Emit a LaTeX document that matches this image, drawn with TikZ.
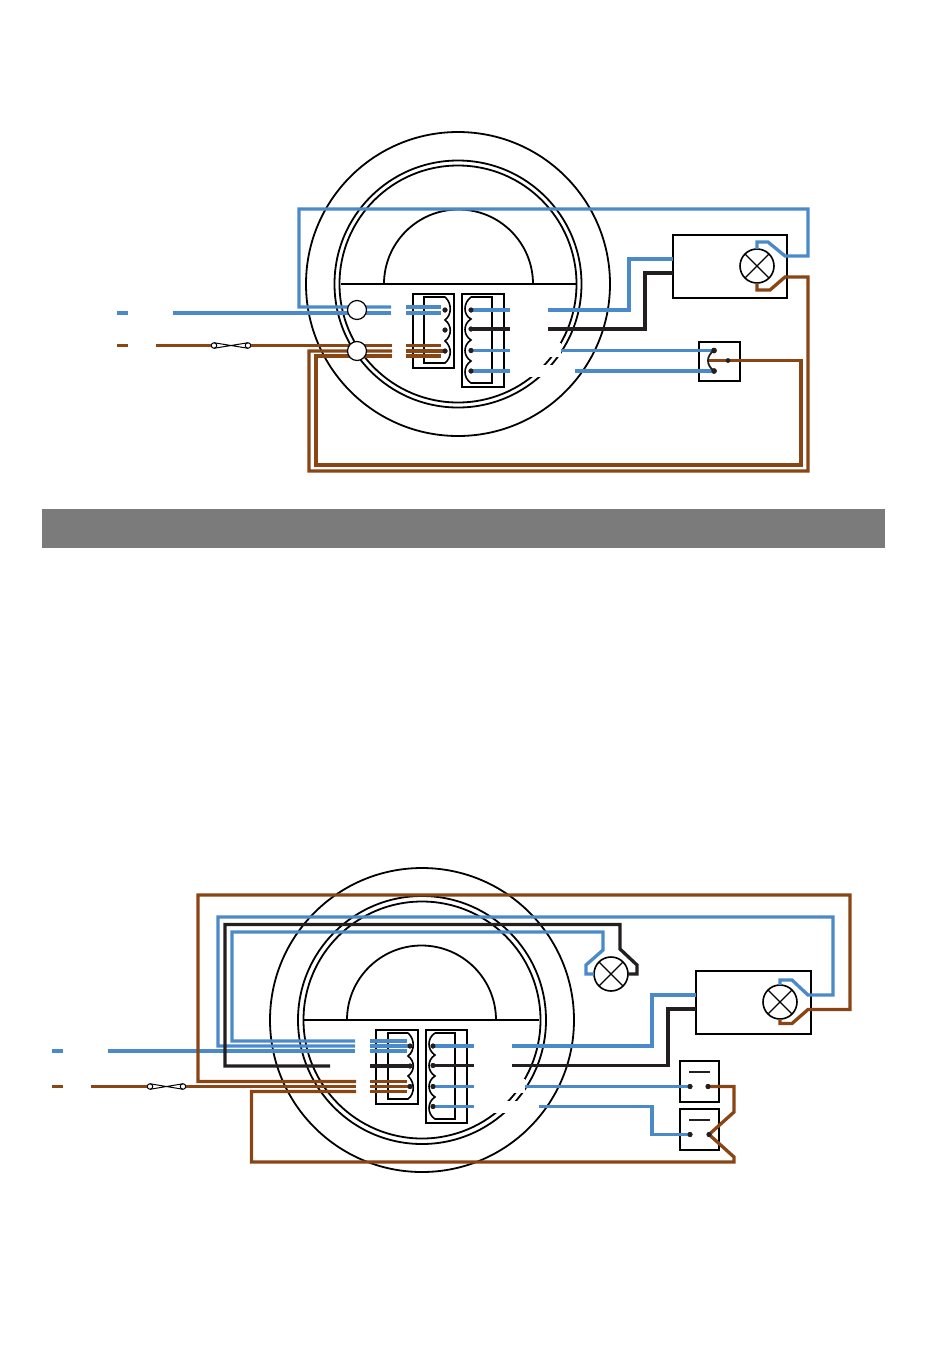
\documentclass[tikz,border=0pt]{standalone}
\definecolor{wblue}{HTML}{4A8ACB}
\definecolor{wbrown}{HTML}{8A4515}
\definecolor{wblack}{HTML}{231F20}
\definecolor{band}{HTML}{7C7B7C}
\tikzset{
  wb/.style={draw=wblue,line width=3.3pt},
  wn/.style={draw=wbrown,line width=3.3pt},
  wk/.style={draw=wblack,line width=3.3pt},
  ring/.style={draw=black,line width=1.8pt},
  blockbox/.style={draw=black,line width=2.3pt},
  thinbox/.style={draw=black,line width=1.6pt},
  dev/.style={draw=black,line width=2.3pt,fill=white},
  lamp/.style={circle,draw=black,line width=1.6pt,fill=white,minimum size=34pt,inner sep=0pt,outer sep=0pt},
  gland/.style={circle,draw=black,line width=1.2pt,fill=white,minimum size=19pt,inner sep=0pt,outer sep=0pt},
  term/.style={circle,fill=wblack,minimum size=5pt,inner sep=0pt,outer sep=0pt},
  fusecap/.style={circle,draw=black,line width=1pt,fill=white,minimum size=5.5pt,inner sep=0pt,outer sep=0pt},
  erase/.style={fill=white,draw=none},
}
\newcommand{\lampcross}[1]{\draw[black,line width=1.3pt] (#1.45)--(#1.225) (#1.135)--(#1.315);}
\newcommand{\fuseline}[2]{\draw[black,line width=1pt] (#1.north)--(#2.south) (#1.south)--(#2.north);}
\begin{document}
\begin{tikzpicture}[x=1pt,y=-1pt,line join=miter]
\useasboundingbox (0,0) rectangle (950,1369);
\fill[white] (0,0) rectangle (950,1369);

% band
\fill[band] (42,509) rectangle (885,548);

%%%%%%%%%%%%%% TOP DIAGRAM %%%%%%%%%%%%%%
\draw[ring] (458,284) circle[radius=152];
\draw[ring] (458,284) circle[radius=123.5];
\draw[ring] (458,284) circle[radius=118.5];
\draw[ring] (341,284) -- (576,284);
\draw[ring] (384,284) arc[start angle=180,end angle=360,radius=74.5];
\fill[erase] (510,343) rectangle (561,357);
\fill[erase] (510,365) rectangle (575,377);

% devices
\draw[dev] (673,235) rectangle (787,298);
\draw[dev] (699,342) rectangle (740,381);

% terminal blocks
\draw[blockbox] (413,294) rectangle (454,368);
\draw[thinbox] (445,297) -- (424,297) -- (424,363) -- (445,363)
  .. controls (452,357) and (452,347) .. (445,341)
  .. controls (452,336) and (452,325) .. (445,320)
  .. controls (452,315) and (452,303) .. (445,297);
\draw[blockbox] (462,294) rectangle (504,387);
\draw[thinbox] (471,297) -- (492,297) -- (492,383) -- (471,383)
  .. controls (463,378) and (463,366) .. (471,361)
  .. controls (463,356) and (463,345) .. (471,340)
  .. controls (463,335) and (463,324) .. (471,319)
  .. controls (463,315) and (463,303) .. (471,297);

\node[term] (a1) at (445,310) {};
\node[term] (a2) at (445,330) {};
\node[term] (a3) at (445,351) {};
\node[term] (b1) at (471,310) {};
\node[term] (b2) at (471,329) {};
\node[term] (b3) at (471,350.5) {};
\node[term] (b4) at (471,371) {};

% lamp
\node[lamp] (lampA) at (757,266) {};
\lampcross{lampA}

% switch terminals
\node[term,minimum size=5.5pt] (s1) at (714,350.5) {};
\node[term,minimum size=5.5pt] (s2) at (714,371) {};
\node[term,minimum size=4.5pt] (s3) at (728,360.5) {};

% fuse
\node[fusecap] (f1) at (214,345.5) {};
\node[fusecap] (f2) at (248,345.5) {};
\fuseline{f1}{f2}

% blue wires
\draw[wb] (117,313) -- (128,313);
\draw[wb] (173,313) -- (391,313);
\draw[wb] (406,313) -- (441,313);
\draw[wb] (391,307) -- (299,307) -- (299,209) -- (808,209) -- (808,256) -- (785,256)
  -- (768,242) -- (757,242) -- (lampA.north);
\draw[wb] (406,307) -- (441,307);
\draw[wb] (b1.center) -- (510,310);
\draw[wb] (548,310) -- (629,310) -- (629,259) -- (673,259);
\draw[wb] (b3.center) -- (510,350.5);
\draw[wb] (561,350.5) -- (s1.center);
\draw[wb] (b4.center) -- (510,371);
\draw[wb] (575,371) -- (s2.center);

% black wires
\draw[wk] (b2.center) -- (510,329);
\draw[wk] (548,329) -- (645,329) -- (645,273) -- (673,273);

% brown wires
\draw[wn] (117,345.5) -- (128,345.5);
\draw[wn] (156,345.5) -- (f1.west);
\draw[wn] (f2.east) -- (392,345.5);
\draw[wn] (406,345.5) -- (441,345.5);
\draw[wn] (392,351) -- (309,351) -- (309,471) -- (808,471) -- (808,277) -- (785,277)
  -- (770,290) -- (757,290) -- (lampA.south);
\draw[wn] (406,351) -- (a3.center);
\draw[wn] (392,356) -- (316,356) -- (316,465) -- (801,465) -- (801,360.5) -- (708,360.5);
\draw[wn] (406,356) -- (441,356);

% switch lever
\draw[wblack,line width=1.8pt] (s1.center) .. controls (706,356) and (706,365) .. (s2.center);

% terminals above the wires
\foreach \n in {a1,a2,a3,b1,b2,b3,b4}{\node[term] at (\n) {};}
\foreach \n in {s1,s2}{\node[term,minimum size=5.5pt] at (\n) {};}
\node[term,minimum size=4.5pt] at (s3) {};

% glands
\node[gland] (g1) at (357,310) {};
\node[gland] (g2) at (357,351) {};

%%%%%%%%%%%%%% BOTTOM DIAGRAM %%%%%%%%%%%%%%
\draw[ring] (422,1020) circle[radius=152];
\draw[ring] (422,1020) circle[radius=124];
\draw[ring] (422,1020) circle[radius=118.5];
\draw[ring] (304,1020) -- (539,1020);
\draw[ring] (347,1020) arc[start angle=180,end angle=360,radius=74.5];
\fill[erase] (474,1079) rectangle (525,1093);
\fill[erase] (474,1101) rectangle (539,1113);

\draw[dev] (696,971) rectangle (811,1034);
\draw[dev] (680,1061) rectangle (719,1102);
\draw[dev] (680,1109) rectangle (719,1150);
\draw[wblack,line width=1.8pt] (689,1072) -- (710,1072);
\draw[wblack,line width=1.8pt] (689,1120) -- (710,1120);

\draw[blockbox] (376,1030) rectangle (418,1104);
\draw[thinbox] (408,1033) -- (388,1033) -- (388,1099) -- (408,1099)
  .. controls (415,1094) and (415,1082) .. (408,1076)
  .. controls (415,1071) and (415,1061) .. (408,1056)
  .. controls (415,1051) and (415,1039) .. (408,1033);
\draw[blockbox] (426,1030) rectangle (467,1123);
\draw[thinbox] (435,1033) -- (455,1033) -- (455,1119) -- (435,1119)
  .. controls (427,1114) and (427,1102) .. (435,1097)
  .. controls (427,1092) and (427,1081) .. (435,1076)
  .. controls (427,1071) and (427,1060) .. (435,1055)
  .. controls (427,1050) and (427,1038) .. (435,1033);

\node[term] (c1) at (410,1046) {};
\node[term] (c2) at (410,1066) {};
\node[term] (c3) at (410,1086.5) {};
\node[term] (d1) at (433,1046) {};
\node[term] (d2) at (433,1065.5) {};
\node[term] (d3) at (433,1086.5) {};
\node[term] (d4) at (433,1106.5) {};

\node[lamp] (lampB) at (780,1002) {};
\lampcross{lampB}
\node[lamp] (lampC) at (611,974) {};
\lampcross{lampC}

\node[term] (t1) at (690,1086.5) {};
\node[term] (t2) at (708,1086.5) {};
\node[term] (t3) at (690,1134.5) {};
\node[term] (t4) at (709,1134.5) {};

\node[fusecap] (f3) at (150,1086.5) {};
\node[fusecap] (f4) at (183,1086.5) {};
\fuseline{f3}{f4}

% blue
\draw[wb] (52,1051) -- (63,1051);
\draw[wb] (108,1051) -- (355,1051);
\draw[wb] (370,1051) -- (407,1051);
\draw[wb] (355,1046) -- (218,1046) -- (218,917) -- (833,917) -- (833,995) -- (808,995)
  -- (792,980) -- (780,980) -- (lampB.north);
\draw[wb] (370,1046) -- (c1.center);
\draw[wb] (355,1041) -- (232,1041) -- (232,932) -- (603,932) -- (603,950) -- (586,965)
  -- (586,974) -- (lampC.west);
\draw[wb] (370,1041) -- (407,1041);
\draw[wb] (d1.center) -- (474,1046);
\draw[wb] (512,1046) -- (652,1046) -- (652,995) -- (696,995);
\draw[wb] (d3.center) -- (474,1086.5);
\draw[wb] (525,1086.5) -- (t1.center);
\draw[wb] (d4.center) -- (474,1106.5);
\draw[wb] (539,1106.5) -- (652,1106.5) -- (652,1134.5) -- (t3.center);

% black
\draw[wk] (330,1066) -- (225,1066) -- (225,924.5) -- (620,924.5) -- (620,949) -- (637,965)
  -- (637,974) -- (lampC.east);
\draw[wk] (370,1066) -- (c2.center);
\draw[wk] (d2.center) -- (474,1065.5);
\draw[wk] (512,1065.5) -- (668,1065.5) -- (668,1009) -- (696,1009);

% brown
\draw[wn] (52,1086.5) -- (63,1086.5);
\draw[wn] (91,1086.5) -- (f3.west);
\draw[wn] (f4.east) -- (356,1086.5);
\draw[wn] (370,1086.5) -- (c3.center);
\draw[wn] (356,1081.5) -- (198,1081.5) -- (198,895) -- (850,895) -- (850,1009.5) -- (808,1009.5)
  -- (792,1023.5) -- (780,1023.5) -- (lampB.south);
\draw[wn] (370,1081.5) -- (407,1081.5);
\draw[wn] (356,1091.5) -- (251.5,1091.5) -- (251.5,1162) -- (734,1162) -- (734,1157)
  -- (t4.center) -- (734,1112) -- (734,1086.5) -- (t2.center);
\draw[wn] (370,1091.5) -- (407,1091.5);
\foreach \n in {c1,c2,c3,d1,d2,d3,d4,t1,t2,t3,t4}{\node[term] at (\n) {};}
\end{tikzpicture}
\end{document}
